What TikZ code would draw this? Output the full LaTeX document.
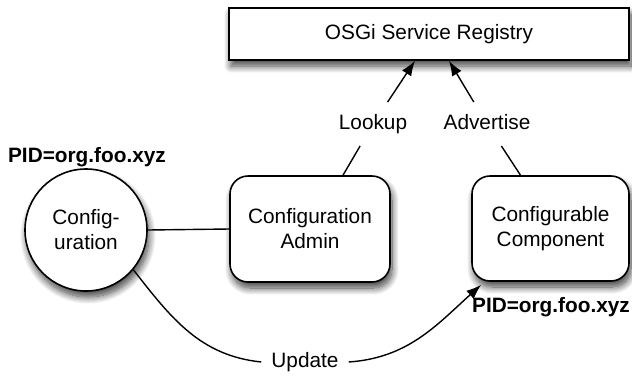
\documentclass[tikz,border=0pt]{standalone}
\usepackage{fontspec}
\setmainfont{Liberation Sans}
\usetikzlibrary{arrows.meta,shadows.blur}
\tikzset{
  base/.style={font=\fontsize{20.8}{25}\selectfont},
  boxshadow/.style={blur shadow={shadow xshift=2pt,shadow yshift=-6pt,shadow blur radius=7pt,shadow blur steps=12,shadow opacity=75}},
  regbox/.style={base,draw,line width=1.6pt,fill=white,minimum width=400pt,minimum height=52pt,boxshadow},
  rbox/.style={base,draw,line width=1.6pt,fill=white,rounded corners=18pt,align=center,boxshadow},
  cbox/.style={base,draw,circle,line width=1.6pt,fill=white,minimum size=122pt,inner sep=0pt,align=center,boxshadow},
  lab/.style={base,text height=15pt,text depth=4.5pt,inner xsep=10pt,inner ysep=12pt},
  pid/.style={base,font=\fontsize{20.8}{25}\selectfont\bfseries,inner sep=0pt},
  conn/.style={line width=1.4pt},
  arr/.style={conn,-{Latex[length=15pt,width=11pt]}}
}
\begin{document}
\begin{tikzpicture}[x=1pt,y=1pt]
\useasboundingbox (0,0) rectangle (632,-376);
\node[regbox] (reg) at (429,-34) {OSGi Service Registry};
\node[rbox,minimum width=160pt,minimum height=106pt] (admin) at (310,-229) {Configuration\\Admin};
\node[rbox,minimum width=157pt,minimum height=105pt] (comp) at (550.5,-228.5) {Configurable\\Component};
\node[cbox] (conf) at (86,-230) {Config-\\uration};
\node[pid] (pid1) at (87,-157) {PID=org.foo.xyz};
\node[pid] (pid2) at (551,-307) {PID=org.foo.xyz};
\node[lab] (lookup) at (373,-124) {Lookup};
\node[lab] (adv) at (487,-124) {Advertise};
\node[lab,inner ysep=4pt] (upd) at (305,-362) {Update};
\coordinate (lt) at ([xshift=-14pt]reg.south);
\coordinate (at) at ([xshift=20pt]reg.south);
\coordinate (lb) at ([xshift=33pt]admin.north);
\coordinate (ab) at ([xshift=-30pt]comp.north);
\coordinate (ut) at ([xshift=10pt,yshift=-3pt]comp.south west);
\draw[conn] (conf.east) -- (admin.west);
\draw[conn] (lb) -- (lookup);
\draw[arr] (lookup) -- (lt);
\draw[conn] (ab) -- (adv);
\draw[arr] (adv) -- (at);
\draw[conn] (conf.-40) to[out=-52,in=174] (upd.west);
\draw[arr] (upd.east) to[out=4,in=222] (ut);
\end{tikzpicture}
\end{document}
